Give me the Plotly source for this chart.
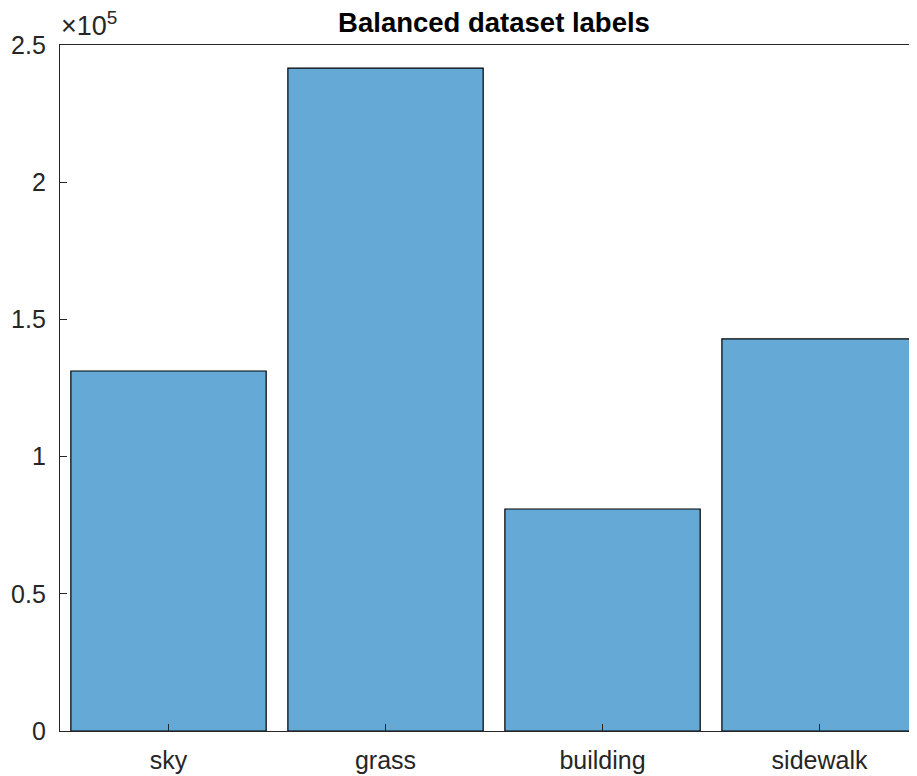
import plotly.graph_objects as go

categories = ["sky", "grass", "building", "sidewalk"]
counts = [131200, 241600, 80900, 142900]
ytick_vals = [0, 50000, 100000, 150000, 200000, 250000]
ytick_text = ["0", "0.5", "1", "1.5", "2", "2.5"]

# page body has an 8px offset in the browser
W, H = 909, 768
axis_col = "#262626"
font_fam = "Liberation Sans, Arial, sans-serif"

fig = go.Figure(go.Bar(
    x=categories, y=counts, width=0.9,
    marker=dict(color="#65A9D7", line=dict(color="#000000", width=1.2)),
))

fig.update_layout(
    width=W, height=H,
    margin=dict(l=52, r=0, t=37, b=45),
    paper_bgcolor="white", plot_bgcolor="white",
    showlegend=False,
    font=dict(family=font_fam, color=axis_col),
    title=dict(text="<b>Balanced dataset labels</b>", x=(494 - 8) / W, xanchor="center",
               y=1 - 14 / H, yanchor="middle", yref="container",
               font=dict(size=27.5, color="#000000", family=font_fam)),
    xaxis=dict(range=[-0.5, 3.449], showline=True, linecolor=axis_col, linewidth=1.3,
               mirror=True, ticks="inside", ticklen=7, tickcolor=axis_col,
               showgrid=False, zeroline=False, ticklabelstandoff=7,
               tickfont=dict(size=25, color=axis_col)),
    yaxis=dict(range=[0, 250000], tickvals=ytick_vals, ticktext=ytick_text,
               showline=True, linecolor=axis_col, linewidth=1.3, mirror=False,
               ticks="inside", ticklen=7, tickcolor=axis_col,
               showgrid=False, zeroline=False, ticklabelstandoff=8,
               tickfont=dict(size=25, color=axis_col)),
)

fig.add_annotation(text="×10<sup>5</sup>", xref="paper", yref="paper",
                   x=0, y=1, xanchor="left", yanchor="bottom", yshift=2, xshift=-1,
                   showarrow=False, font=dict(size=27, color=axis_col, family=font_fam))

fig.write_html("out.html")
